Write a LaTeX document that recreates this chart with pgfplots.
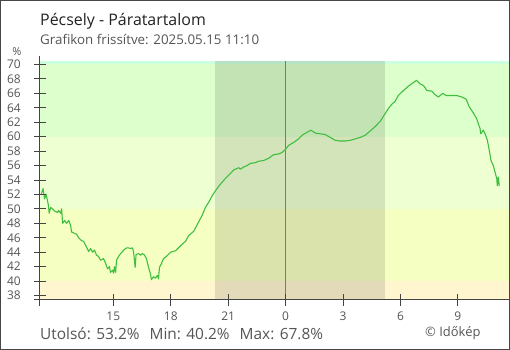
\documentclass[border=0pt]{standalone}
\usepackage{pgfplots}
\pgfplotsset{compat=1.18}
\usepackage{fontspec}
\setmainfont{Open Sans}
\definecolor{txt}{RGB}{85,85,85}
\definecolor{titlec}{RGB}{34,34,34}
\definecolor{framec}{RGB}{70,70,70}
\definecolor{axisc}{RGB}{68,68,68}
\definecolor{bandA}{RGB}{204,255,221}
\definecolor{bandB}{RGB}{221,255,204}
\definecolor{bandC}{RGB}{238,255,210}
\definecolor{bandD}{RGB}{245,255,194}
\definecolor{bandE}{RGB}{255,246,208}
\definecolor{linec}{RGB}{64,190,64}
\definecolor{zeroc}{RGB}{60,140,190}
\pgfplotstableread{
h v
-12.76 52.1
-12.67 52.8
-12.59 51.4
-12.51 52.0
-12.39 50.5
-12.35 49.4
-12.27 50.2
-12.17 50.0
-12.07 49.7
-11.91 49.5
-11.86 49.8
-11.75 49.4
-11.70 50.0
-11.65 48.0
-11.54 48.4
-11.44 48.0
-11.33 48.4
-11.23 47.7
-11.18 46.8
-11.02 46.6
-10.92 46.5
-10.81 46.0
-10.66 45.6
-10.55 45.5
-10.40 44.7
-10.29 44.1
-10.19 44.5
-10.08 44.0
-9.98 44.3
-9.88 43.6
-9.77 43.4
-9.67 42.9
-9.51 43.1
-9.41 42.5
-9.30 41.7
-9.20 42.0
-9.15 41.2
-9.04 41.5
-8.99 41.1
-8.94 42.0
-8.88 41.2
-8.83 42.9
-8.73 43.4
-8.62 43.8
-8.52 44.1
-8.41 44.4
-8.31 44.6
-8.21 44.6
-8.10 44.5
-8.00 44.6
-7.94 44.0
-7.86 41.9
-7.81 43.7
-7.68 43.8
-7.58 43.6
-7.48 43.8
-7.37 43.6
-7.27 43.1
-7.16 41.9
-7.06 41.0
-7.01 40.2
-6.90 40.6
-6.80 40.4
-6.69 40.8
-6.64 40.3
-6.59 41.9
-6.49 42.4
-6.38 43.1
-6.28 43.3
-6.15 43.6
-6.01 44.0
-5.75 44.2
-5.49 44.9
-5.23 45.5
-5.06 46.3
-4.80 46.9
-4.54 48.2
-4.36 49.1
-4.19 50.2
-4.02 50.9
-3.84 51.8
-3.67 52.5
-3.50 53.1
-3.35 53.6
-3.15 54.2
-2.88 54.9
-2.71 55.4
-2.45 55.7
-2.36 55.5
-2.19 55.8
-2.01 56.0
-1.84 56.3
-1.58 56.4
-1.41 56.6
-1.15 56.7
-0.89 57.0
-0.63 57.5
-0.37 57.6
-0.19 57.8
-0.02 58.2
0.16 58.8
0.42 59.2
0.68 59.7
0.86 60.2
1.12 60.6
1.32 60.9
1.55 60.5
1.81 60.4
2.07 60.3
2.33 59.9
2.59 59.5
2.85 59.4
3.11 59.4
3.38 59.5
3.64 59.7
3.90 59.9
4.16 60.2
4.42 60.8
4.68 61.4
4.94 62.1
5.20 63.2
5.37 63.9
5.55 64.5
5.72 64.9
5.89 65.7
6.16 66.4
6.42 67.0
6.68 67.5
6.84 67.8
7.03 67.3
7.20 67.1
7.38 66.4
7.64 66.3
7.81 65.8
7.98 65.5
8.21 66.0
8.38 65.7
8.68 65.7
8.94 65.7
9.20 65.5
9.43 65.2
9.49 64.8
9.60 64.1
9.78 63.4
9.98 62.5
10.16 61.1
10.19 60.4
10.33 60.9
10.42 60.4
10.54 59.5
10.64 58.1
10.73 56.7
10.85 56.0
10.94 55.1
11.03 54.2
11.06 53.2
11.11 54.4
11.16 53.2
}\humidity
\begin{document}
\begin{tikzpicture}
\draw[line width=1.2bp, color=framec] (0.6bp,-0.6bp) rectangle (509.4bp,-349.4bp);
\node[anchor=base west, inner sep=0pt, text=titlec, font=\fontsize{16}{19}\selectfont] at (40bp,-25bp) {Pécsely - Páratartalom};
\node[anchor=base west, inner sep=0pt, text=txt, font=\fontsize{13.4}{15}\selectfont] at (40bp,-44.5bp) {Grafikon frissítve: 2025.05.15 11:10};
\node[anchor=base, inner sep=0pt, text=txt, font=\fontsize{11}{13}\selectfont] at (17bp,-55bp) {\%};
\node[anchor=base west, inner sep=0pt, text=txt, font=\fontsize{15.5}{18}\selectfont] at (40bp,-339.5bp) {Utolsó: 53.2\%\hspace{6bp} Min: 40.2\%\hspace{6bp} Max: 67.8\%};
\node[anchor=base west, inner sep=0pt, text=txt, font=\fontsize{13}{15}\selectfont] at (425bp,-336bp) {© Időkép};
\begin{axis}[
  at={(40bp,-299.5bp)}, anchor=south west,
  scale only axis, width=469bp, height=239bp,
  xmin=-12.83, xmax=11.67, ymin=37.45, ymax=70.55,
  axis lines*=left, axis on top,
  axis line style={color=axisc, line width=1bp},
  x axis line style={shorten <=-6bp},
  y axis line style={shorten <=-6bp, shorten >=-5bp},
  tick align=center, major tick length=12bp,
  tick style={color=axisc, line width=1bp},
  xtick={-9,-6,-3,0,3,6,9},
  xticklabels={15,18,21,0,3,6,9},
  ytick={38,40,...,70},
  /pgf/number format/assume math mode=true,
  ticklabel style={text=txt, font=\fontsize{12}{14}\selectfont, inner sep=0pt},
  yticklabel style={anchor=east, xshift=-13bp},
  xticklabel style={anchor=north, yshift=-6bp},
  clip=true,
]
\fill[bandA] (axis cs:-12.83,70) rectangle (axis cs:11.67,70.55);
\fill[bandB] (axis cs:-12.83,60) rectangle (axis cs:11.67,70);
\fill[bandC] (axis cs:-12.83,50) rectangle (axis cs:11.67,60);
\fill[bandD] (axis cs:-12.83,40) rectangle (axis cs:11.67,50);
\fill[bandE] (axis cs:-12.83,37.45) rectangle (axis cs:11.67,40);
\fill[black, opacity=0.11] (axis cs:-3.67,37.45) rectangle (axis cs:5.20,70.55);
\addplot[color=zeroc, line width=0.9bp, forget plot] coordinates {(0,37.45) (0,70.55)};
\addplot[color=linec, line width=1.1bp, sharp plot, line join=round] table[x=h, y=v] {\humidity};
\end{axis}
\pgfresetboundingbox
\useasboundingbox (0,0) rectangle (510bp,-350bp);
\end{tikzpicture}
\end{document}
